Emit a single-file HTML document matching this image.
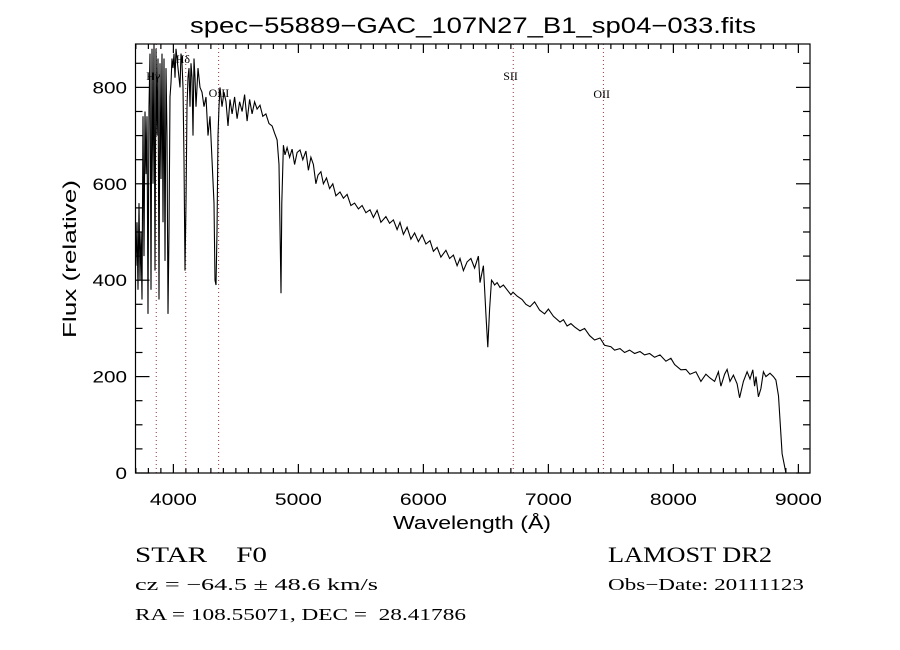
<!DOCTYPE html>
<html><head><meta charset="utf-8"><style>
html,body{margin:0;padding:0;background:#fff}
svg{display:block}
.sans{font-family:"Liberation Sans","DejaVu Sans",sans-serif}
.serif{font-family:"Liberation Serif","DejaVu Serif",serif}
</style></head><body>
<svg id="chart" width="900" height="650" viewBox="0 0 900 650">
<rect width="900" height="650" fill="#fff"/>
<text x="190" y="33" textLength="566" lengthAdjust="spacingAndGlyphs" font-size="22" class="sans">spec−55889−GAC_107N27_B1_sp04−033.fits</text>
<g id="axes"></g>
<g id="lines"></g>
<path id="spec" fill="none" stroke="#000" stroke-width="1.1"/>
<rect x="135.5" y="44" width="674.5" height="429" fill="none" stroke="#000" stroke-width="1.2"/>
<text x="393" y="529" textLength="158" lengthAdjust="spacingAndGlyphs" font-size="18" class="sans">Wavelength (Å)</text>
<text transform="translate(76,338) rotate(-90)" textLength="158" lengthAdjust="spacingAndGlyphs" font-size="18" class="sans">Flux (relative)</text>
<text x="135" y="562" textLength="132" lengthAdjust="spacingAndGlyphs" font-size="22" class="serif" xml:space="preserve">STAR    F0</text>
<text x="608" y="562" textLength="164" lengthAdjust="spacingAndGlyphs" font-size="22" class="serif">LAMOST DR2</text>
<text x="135" y="590" textLength="243" lengthAdjust="spacingAndGlyphs" font-size="17" class="serif">cz = −64.5 ± 48.6 km/s</text>
<text x="608" y="590" textLength="196" lengthAdjust="spacingAndGlyphs" font-size="17" class="serif">Obs−Date: 20111123</text>
<text x="135" y="620" textLength="331" lengthAdjust="spacingAndGlyphs" font-size="17" class="serif" xml:space="preserve">RA = 108.55071, DEC =  28.41786</text>
</svg>
<script>
const wavelengths=[3701,3709,3717,3725,3733,3741,3749,3757,3765,3773,3781,3789,3797,3805,3813,3821,3829,3837,3845,3853,3861,3869,3877,3885,3893,3901,3909,3917,3925,3933,3941,3949,3957,3965,3973,3981,3989,3997,4005,4013,4021,4029,4037,4053,4061,4069,4077,4085,4093,4101,4109,4117,4125,4133,4141,4149,4157,4165,4173,4181,4197,4213,4229,4245,4261,4277,4293,4309,4325,4333,4341,4349,4357,4365,4373,4389,4405,4421,4437,4453,4470,4490,4510,4530,4550,4570,4590,4610,4630,4650,4670,4693,4715,4740,4765,4790,4810,4830,4845,4855,4861,4867,4880,4893,4910,4930,4950,4970,4990,5013,5035,5060,5080,5100,5120,5140,5157,5180,5200,5225,5250,5275,5300,5333,5360,5390,5420,5450,5480,5510,5540,5573,5600,5630,5660,5700,5730,5760,5790,5813,5840,5870,5900,5930,5960,5990,6020,6053,6080,6110,6140,6180,6210,6240,6270,6293,6320,6350,6380,6410,6440,6453,6480,6500,6515,6530,6545,6557,6570,6590,6613,6640,6670,6700,6717,6750,6790,6820,6853,6890,6930,6970,7000,7040,7093,7120,7150,7180,7210,7253,7290,7330,7370,7413,7450,7500,7530,7573,7610,7650,7690,7733,7770,7810,7850,7893,7940,7980,8010,8060,8100,8133,8180,8220,8260,8293,8330,8360,8380,8410,8430,8453,8480,8510,8530,8560,8590,8613,8635,8650,8661,8680,8700,8720,8740,8773,8800,8820,8841,8870,8900,8933,8965,8989,8997,9005,9010];
const fluxes=[430,520,380,560,400,500,360,740,450,750,620,740,330,760,870,380,880,600,890,420,880,700,860,360,850,610,870,520,860,440,840,700,330,500,780,810,860,840,870,820,880,860,840,800,870,850,800,650,420,560,760,820,840,760,850,820,700,860,820,760,840,800,790,760,780,700,740,650,560,400,390,500,700,760,800,760,790,770,720,775,745,780,735,770,750,785,730,775,745,770,755,763,740,745,725,720,705,691,640,470,373,560,680,660,675,655,672,640,665,670,650,668,628,655,640,600,618,625,600,612,590,600,575,583,570,578,555,560,548,555,540,546,530,545,520,532,518,525,505,520,495,510,485,498,480,494,475,482,460,468,448,462,445,452,430,445,420,438,445,425,450,395,430,330,261,340,400,396,390,395,385,390,380,370,375,367,360,350,345,355,338,330,340,325,313,318,305,310,303,295,300,285,276,280,265,262,255,258,250,255,248,252,245,248,240,245,232,238,225,214,215,205,210,190,205,197,190,210,180,205,215,190,203,185,156,190,210,195,214,180,200,158,175,210,200,207,200,193,160,40,0];
const lineWl=[3863,4099,4362,6719,7440];
const lineNames=["Hγ","Hδ","OIII","SII","OII"];
const lineLabelY=[80,63,97,80,98];
const xTicks=[4000,5000,6000,7000,8000,9000];
const yTicks=[0,200,400,600,800];
const X0=3697,X1=9093,Y0=0,Y1=890,L=135.5,R=810,T=44,B=473;
function sx(w){return L+(w-X0)/(X1-X0)*(R-L);}
function sy(f){return B-(f-Y0)/(Y1-Y0)*(B-T);}
const NS="http://www.w3.org/2000/svg";
const axes=document.getElementById('axes');
function ln(x1,y1,x2,y2,name,extra){const e=document.createElementNS(NS,'line');e.setAttribute('x1',x1);e.setAttribute('y1',y1);e.setAttribute('x2',x2);e.setAttribute('y2',y2);e.setAttribute('stroke',extra||'#000');e.setAttribute('stroke-width','1.2');


axes.appendChild(e);return e;}
function tx(x,y,s,anchor,name,w){const e=document.createElementNS(NS,'text');e.setAttribute('x',x);e.setAttribute('y',y);e.setAttribute('text-anchor',anchor);e.setAttribute('font-size','17');e.setAttribute('class','sans');e.setAttribute('textLength',w);e.setAttribute('lengthAdjust','spacingAndGlyphs');e.textContent=s;


axes.appendChild(e);return e;}
for(let w=3700;w<=X1;w+=100){const x=sx(w);const major=w%1000===0;const len=major?9:5;ln(x,B,x,B-len,'x-tick');ln(x,T,x,T+len,'x-tick-top');}
xTicks.forEach(w=>tx(sx(w),505,String(w),'middle','x-tick-label',47));
for(let f=0;f<=Y1;f+=50){const y=sy(f);const major=f%200===0;const len=major?14:7;ln(L,y,L+len,y,'y-tick');ln(R,y,R-len,y,'y-tick-right');}
yTicks.forEach(f=>tx(127,sy(f)+6,String(f),'end','y-tick-label',String(f).length*11.5));
const lg=document.getElementById('lines');
lineWl.forEach((w,i)=>{const x=sx(w);const e=document.createElementNS(NS,'line');e.setAttribute('x1',x);e.setAttribute('x2',x);e.setAttribute('y1',T);e.setAttribute('y2',B);e.setAttribute('stroke','#8b3a3a');e.setAttribute('stroke-width','1');e.setAttribute('stroke-dasharray','1,3');


lg.appendChild(e);
const t=document.createElementNS(NS,'text');t.setAttribute('x',x-10);t.setAttribute('y',lineLabelY[i]);t.setAttribute('font-size','12');t.setAttribute('class','serif');t.textContent=lineNames[i];


lg.appendChild(t);});
let d='';wavelengths.forEach((w,i)=>{d+=(i?'L':'M')+sx(w).toFixed(1)+' '+sy(Math.min(fluxes[i],Y1)).toFixed(1);});
document.getElementById('spec').setAttribute('d',d);
</script>
</body></html>
